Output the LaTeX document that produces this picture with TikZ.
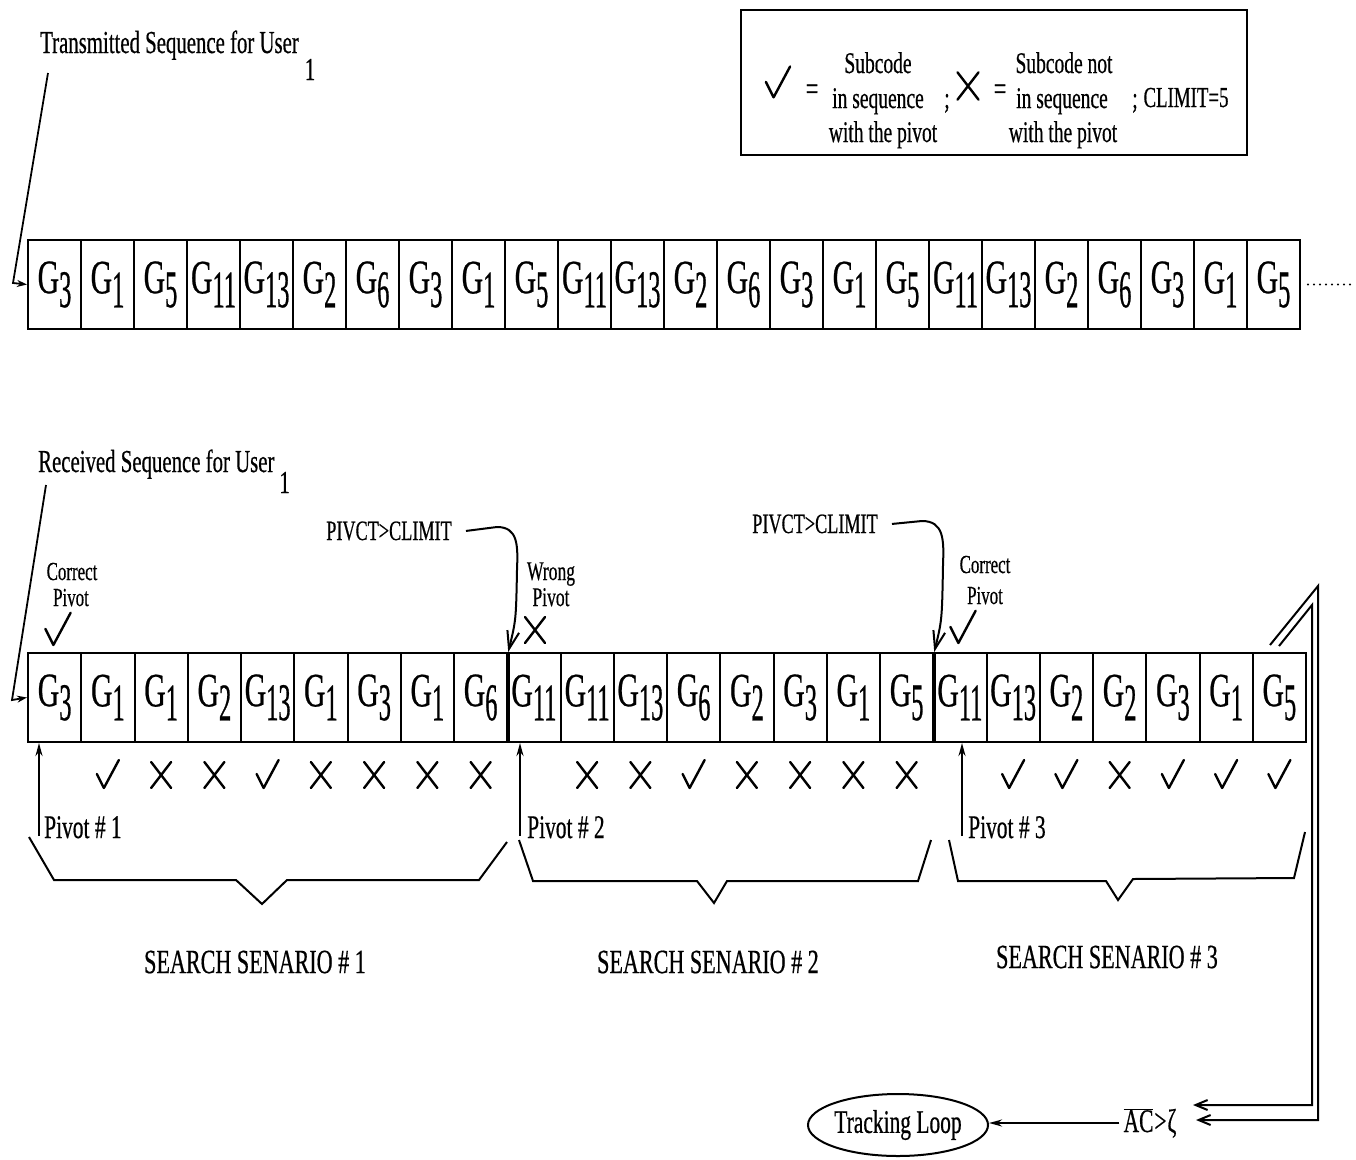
\documentclass[tikz,border=0pt]{standalone}
\usepackage{fontspec}
\setmainfont{Liberation Serif}[FakeStretch=0.65,FakeBold=0.5]
\newfontfamily\gfont[FakeStretch=0.62,FakeBold=0.5]{Liberation Serif}
\newfontfamily\dfont[FakeStretch=0.46,FakeBold=0.5]{Liberation Serif}
\usetikzlibrary{arrows.meta,shapes.geometric}
\newcommand\fsz[1]{\fontsize{#1}{#1}\selectfont}
\newcommand\Gs[1]{{\gfont\fsz{48}G}{\dfont\fsz{53}\raisebox{-14pt}{#1}}}
\begin{document}
\begin{tikzpicture}[x=1pt,y=-1pt,
 cell/.style={draw, line width=2pt, minimum height=89pt, inner sep=0pt},
 lab/.style={inner sep=0pt, font=\fsz{30}},
 mk/.style={line width=2.4pt, line cap=round, line join=round},
 arr/.style={line width=2pt, -{Stealth[length=13pt,width=7pt]}},
 sarr/.style={line width=1.8pt, -{Stealth[length=10pt,width=7pt]}},
 barb/.style={line width=2pt, -{Straight Barb[length=18pt,width=12pt]}},
 dbarb/.style={line width=2pt, -{Straight Barb[length=12pt,width=10pt]}},
 brace/.style={line width=2pt, line join=miter},
 chk/.pic={\draw[mk] (-11,-1) -- (-4,13) -- (11,-15);},
 xmk/.pic={\draw[mk] (-10,-13) -- (10,13) (10,-13) -- (-10,13);}]
\useasboundingbox (0,0) rectangle (1356,1159);

% legend
\node[draw, line width=2pt, minimum width=506pt, minimum height=145pt, inner sep=0pt] (legend) at (993.5,82) {};
\pic[scale=1.1] at (778,83) {chk};
\node[lab, anchor=base, font=\fsz{34}] (eq1) at (812,100) {=};
\node[lab, anchor=base] (l1a) at (878,73) {Subcode};
\node[lab, anchor=base] (l1b) at (878,108) {in sequence};
\node[lab, anchor=base] (l1c) at (883,142) {with the pivot};
\node[lab, anchor=base] (sc1) at (947,108) {;};
\pic[scale=1.05] at (968,86) {xmk};
\node[lab, anchor=base, font=\fsz{34}] (eq2) at (1000,100) {=};
\node[lab, anchor=base] (l2a) at (1064,73) {Subcode not};
\node[lab, anchor=base] (l2b) at (1062,108) {in sequence};
\node[lab, anchor=base] (l2c) at (1063,142) {with the pivot};
\node[lab, anchor=base] (sc2) at (1135,108) {;};
\node[lab, anchor=base, font=\fsz{29}] (clim) at (1186,107) {CLIMIT=5};

% transmitted sequence
\node[lab, anchor=base west, font=\fsz{32}] (tl) at (40,53) {Transmitted Sequence for User\hspace{6pt}\raisebox{-27pt}{1}};
\foreach \l [count=\i] in {3,1,5,11,13,2,6,3,1,5,11,13,2,6,3,1,5,11,13,2,6,3,1,5}
  \node[cell, minimum width=53pt] (t\i) at ({28+53*(\i-0.5)},284.5) {\Gs{\l}};
\coordinate (tlp) at (48,73);
\coordinate (tlk) at (13,283);
\draw[sarr] (tlp) -- (tlk) -- (t1.west);
\draw[line width=2.2pt, line cap=round, dash pattern=on 0pt off 6pt] ([xshift=7pt]t24.east) -- ++(46,0);

% received sequence
\node[lab, anchor=base west, font=\fsz{32}] (rl) at (38,472) {Received Sequence for User\hspace{5pt}\raisebox{-21pt}{1}};
\foreach \l [count=\i] in {3,1,1,2,13,1,3,1,6,11,11,13,6,2,3,1,5,11,13,2,2,3,1,5}
  \node[cell, minimum width=53.25pt] (r\i) at ({28+53.25*(\i-0.5)},697.5) {\Gs{\l}};
\draw[line width=3.6pt] (r9.north east) -- (r9.south east);
\draw[line width=3.6pt] (r17.north east) -- (r17.south east);
\coordinate (rlp) at (46,485);
\coordinate (rlk) at (12,700);
\draw[sarr] (rlp) -- (rlk) -- (r1.west);

% pivot annotations above
\node[lab, anchor=base, font=\fsz{26}] (cp1a) at (72,580) {Correct};
\node[lab, anchor=base, font=\fsz{26}] (cp1b) at (71,606) {Pivot};
\pic[scale=1.15] at (58,630) {chk};
\node[lab, anchor=base, font=\fsz{27}] (wpa) at (551,580) {Wrong};
\node[lab, anchor=base, font=\fsz{27}] (wpb) at (551,606) {Pivot};
\pic at (535,630) {xmk};
\node[lab, anchor=base, font=\fsz{26}] (cp3a) at (985,573) {Correct};
\node[lab, anchor=base, font=\fsz{26}] (cp3b) at (985,604) {Pivot};
\pic[scale=1.15] at (963,628) {chk};

\node[lab, anchor=base, font=\fsz{28}] (pv1) at (389,540) {PIVCT>CLIMIT};
\node[lab, anchor=base, font=\fsz{28}] (pv2) at (815,533) {PIVCT>CLIMIT};
\draw[barb] ([xshift=14pt]pv1.east) -- (497,527) .. controls (518,527) and (518,545) .. (517,570) .. controls (516,620) .. (r9.north east);
\draw[barb] ([xshift=14pt]pv2.east) -- (922,521) .. controls (944,521) and (944,540) .. (943,565) .. controls (942,620) .. (r17.north east);

% marks below
\foreach \i in {2,5,13,19,20,22,23,24}
  \pic at ({28+53.25*(\i-0.5)},775) {chk};
\foreach \i in {3,4,6,7,8,9,11,12,14,15,16,17,21}
  \pic at ({28+53.25*(\i-0.5)},775) {xmk};

% pivot arrows
\coordinate (pa1) at (39,836);
\coordinate (pa2) at (520,836);
\coordinate (pa3) at (962,836);
\draw[arr] (pa1) -- (pa1 |- r1.south);
\draw[arr] (pa2) -- (pa2 |- r10.south);
\draw[arr] (pa3) -- (pa3 |- r18.south);
\node[lab, anchor=base west, font=\fsz{33}] (pl1) at (44,838) {Pivot \# 1};
\node[lab, anchor=base west, font=\fsz{33}] (pl2) at (527,838) {Pivot \# 2};
\node[lab, anchor=base west, font=\fsz{33}] (pl3) at (968,838) {Pivot \# 3};

% braces
\draw[brace] (29,837) -- (54,880) -- (236,880) -- (262,904) -- (287,880) -- (479,880) -- (507,842);
\draw[brace] (519,840) -- (533,881) -- (697,881) -- (714,903) -- (727,881) -- (918,881) -- (931,840);
\draw[brace] (949,840) -- (958,881) -- (1106,881) -- (1118,900) -- (1133,879) -- (1294,878) -- (1305,832);

\node[lab, font=\fsz{34}] (ss1) at (255,962) {SEARCH SENARIO \# 1};
\node[lab, font=\fsz{34}] (ss2) at (708,962) {SEARCH SENARIO \# 2};
\node[lab, font=\fsz{34}] (ss3) at (1107,957) {SEARCH SENARIO \# 3};

% tracking loop
\node[ellipse, draw, line width=2pt, minimum width=162pt, minimum height=62pt, inner sep=0pt, font=\fsz{33}] (track) at (898,1125) {Tracking Loop};
\node[lab, anchor=base, font=\fsz{33}] (ac) at (1150,1132) {$\overline{\hbox{AC}}$\kern1pt>\kern1ptζ};
\draw[arr] ([xshift=-4pt]ac.west) -- (ac.west -| track.east);

% double line
\coordinate (da1) at (1270,645);
\coordinate (da2) at (1318,586);
\coordinate (da3) at (1318,1120);
\coordinate (da4) at (1196,1120);
\coordinate (db1) at (1279,646);
\coordinate (db2) at (1312,605);
\coordinate (db3) at (1312,1105);
\coordinate (db4) at (1193,1105);
\draw[dbarb] (da1) -- (da2) -- (da3) -- (da4);
\draw[dbarb] (db1) -- (db2) -- (db3) -- (db4);
\end{tikzpicture}
\end{document}
